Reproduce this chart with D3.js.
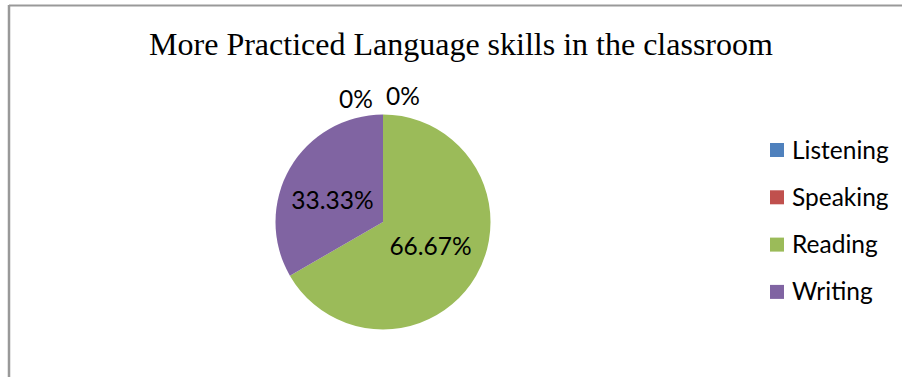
<!DOCTYPE html>
<html>
<head>
<meta charset="utf-8">
<script src="https://cdn.jsdelivr.net/npm/d3@7"></script>
<style>
  html, body { margin: 0; padding: 0; background: #fff; }
  svg { display: block; }
</style>
</head>
<body>
<svg id="chart" width="902" height="377"></svg>
<script>
// Skills and their share of classroom practice (percent)
const skills = ["Listening", "Speaking", "Reading", "Writing"];
const shares = [0, 0, 66.67, 33.33];
const shareLabels = ["0%", "0%", "66.67%", "33.33%"];
const colors = ["#4F81BD", "#C0504D", "#9BBB59", "#8064A2"];
const title = "More Practiced Language skills in the classroom";

const W = 902, H = 377;
const svg = d3.select("#chart");
const labelFont = "Lato, 'Open Sans', sans-serif";
const labelSize = 24.5;

// Frame: left and top edges of the chart area
svg.append("line").attr("x1", 9).attr("y1", 5.5).attr("x2", W).attr("y2", 5.5)
  .attr("stroke", "#999").attr("stroke-width", 2);
svg.append("line").attr("x1", 9).attr("y1", 5).attr("x2", 9).attr("y2", H)
  .attr("stroke", "#999").attr("stroke-width", 2.5);

svg.append("text")
  .attr("x", 461).attr("y", 55)
  .attr("text-anchor", "middle")
  .attr("font-family", "'Liberation Serif', 'Times New Roman', serif")
  .attr("font-size", 32)
  .attr("fill", "#000")
  .text(title);

// Pie
const cx = 383, cy = 222, r = 107.5;
const data = skills.map((s, i) => ({ skill: s, value: shares[i], label: shareLabels[i], color: colors[i] }));
const pie = d3.pie().value(d => d.value).sort(null);
const arcs = pie(data);
const arc = d3.arc().innerRadius(0).outerRadius(r);

const g = svg.append("g").attr("transform", `translate(${cx},${cy})`);
g.selectAll("path.slice")
  .data(arcs.filter(a => a.data.value > 0))
  .join("path")
  .attr("class", "slice")
  .attr("d", arc)
  .attr("fill", d => d.data.color);

// Data labels: inside near the centroid for real slices, above the rim for empty ones
let zeroIdx = 0;
const zeroShift = [-27, 20];
g.selectAll("text.lbl")
  .data(arcs)
  .join("text")
  .attr("class", "lbl")
  .attr("text-anchor", "middle")
  .attr("font-family", labelFont)
  .attr("font-size", labelSize)
  .attr("fill", "#000")
  .attr("x", d => {
    if (d.data.value > 0) {
      const c = arc.centroid(d);
      return c[0] + (c[0] > 0 ? 1 : -4);
    }
    return Math.sin(d.startAngle) * r + zeroShift[zeroIdx++];
  })
  .attr("y", d => {
    if (d.data.value > 0) {
      const c = arc.centroid(d);
      return c[1] + (c[1] > 0 ? 6 : 14);
    }
    return -Math.cos(d.startAngle) * r - 10 + (d.index === 0 ? 3 : 0);
  })
  .text(d => d.data.label);

// Legend
const legend = svg.append("g").attr("transform", "translate(770,143)");
const rows = legend.selectAll("g").data(data).join("g")
  .attr("transform", (d, i) => `translate(0,${i * 47.3})`);
rows.append("rect").attr("width", 14).attr("height", 14).attr("fill", d => d.color);
rows.append("text")
  .attr("x", 22).attr("y", 15.5)
  .attr("font-family", labelFont)
  .attr("font-size", labelSize)
  .attr("fill", "#000")
  .text(d => d.skill);
</script>
</body>
</html>
